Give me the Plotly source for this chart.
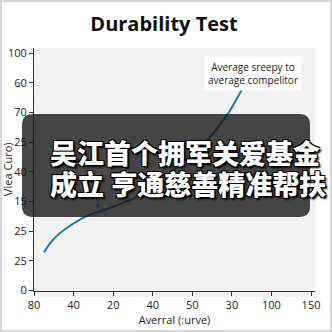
import plotly.graph_objects as go

# ---- data ----
curve_x = [0.25, 0.40, 0.61, 0.91, 1.29, 1.67, 2.17, 2.68, 3.36, 3.94, 4.45, 4.88, 5.26]
curve_y = [1.28, 1.58, 1.88, 2.18, 2.48, 2.67, 2.91, 3.21, 3.89, 4.49, 5.17, 5.91, 6.79]
x_tickvals = [0, 1, 2, 3, 4, 5, 6, 7]
x_ticktext = ["80", "40", "20", "40", "50", "30", "100", "150"]
y_tickvals = [0, 1, 2, 3, 4, 5, 6, 7, 8]
y_ticktext = ["0", "25", "25", "15", "40", "25", "70", "60", "100"]

W, H = 332, 332
L, R, T, B = 34, 315, 48, 291  # plot area in pixels


def px(x):
    return (x - L) / (R - L)


def py(y):
    return (B - y) / (B - T)


def rounded_rect(x0, y0, x1, y1, r):
    p = lambda x, y: f"{px(x):.5f},{py(y):.5f}"
    return (f"M {p(x0 + r, y0)} L {p(x1 - r, y0)} Q {p(x1, y0)} {p(x1, y0 + r)} "
            f"L {p(x1, y1 - r)} Q {p(x1, y1)} {p(x1 - r, y1)} "
            f"L {p(x0 + r, y1)} Q {p(x0, y1)} {p(x0, y1 - r)} "
            f"L {p(x0, y0 + r)} Q {p(x0, y0)} {p(x0 + r, y0)} Z")


fig = go.Figure()
fig.add_trace(go.Scatter(x=curve_x, y=curve_y, mode="lines",
                         line=dict(color="#1a78b4", width=2, shape="spline", smoothing=0.8),
                         hoverinfo="skip", showlegend=False))

axis_font = dict(family="Open Sans, DejaVu Sans, sans-serif", size=11, color="#222")

fig.update_layout(
    width=W, height=H,
    margin=dict(l=L, r=W - R, t=T, b=H - B, autoexpand=False),
    paper_bgcolor="white",
    plot_bgcolor="#f2f2f2",
    showlegend=False,
    title=dict(text="<b>Durability Test</b>", x=0.494, xanchor="center", y=1 - 24 / H, yanchor="middle",
               font=dict(family="Open Sans, sans-serif", size=20, color="#111")),
    xaxis=dict(range=[0, 7.1], tickvals=x_tickvals, ticktext=x_ticktext, automargin=False,
               showgrid=False, zeroline=False, showline=True, linecolor="#333", linewidth=1,
               ticks="outside", ticklen=4, tickcolor="#333", tickfont=axis_font,
               title=dict(text="Averral (:urve)", font=axis_font, standoff=1)),
    yaxis=dict(range=[-0.02, 8.17], tickvals=y_tickvals, ticktext=y_ticktext, automargin=False,
               showgrid=False, zeroline=False, showline=True, linecolor="#333", linewidth=1,
               ticks="outside", ticklen=4, tickcolor="#333", tickfont=axis_font,
               title=dict(text="\\/iea Curo)", font=axis_font, standoff=1)),
)

shapes = [
    # gray extension below the axis
    dict(type="rect", xref="paper", yref="paper", x0=0, x1=1, y0=py(297), y1=0,
         fillcolor="#f2f2f2", line=dict(width=0), layer="below"),
    # outer border
    dict(type="rect", xref="paper", yref="paper", x0=px(1), x1=px(331), y0=py(331), y1=py(1),
         fillcolor="rgba(0,0,0,0)", line=dict(color="#d6d6d6", width=2), layer="above"),
    # dark overlay panel
    dict(type="path", xref="paper", yref="paper", path=rounded_rect(22, 114, 310, 217, 11),
         fillcolor="rgba(25,25,25,0.8)", line=dict(width=0), layer="above"),
]
fig.update_layout(shapes=shapes)

ann_font = dict(family="Open Sans, DejaVu Sans, sans-serif", size=10, color="#222")
annotations = [
    dict(xref="paper", yref="paper", x=px(253), y=py(73), xanchor="center", yanchor="middle",
         text="Average sreepy to<br>average compelitor",
         showarrow=False, bgcolor="white", borderpad=3, font=ann_font, align="center"),
    dict(xref="paper", yref="paper", x=px(88), y=py(171), xanchor="center", yanchor="middle",
         text="wear curve",
         showarrow=False, font=dict(family="Open Sans, sans-serif", size=10, color="#555")),
    dict(xref="paper", yref="paper", x=px(98), y=py(209), text="", showarrow=True,
         ax=0, ay=-30, arrowhead=2, arrowsize=1, arrowwidth=1, arrowcolor="#2b3550"),
]
cn_shadow = ("2px 2px 2px #000, -1px -1px 0 #000, 1px -1px 0 #000, "
             "-1px 1px 0 #000, 1px 1px 0 #000")
cn_font = dict(family="Noto Sans CJK SC", size=27, color="white", weight=900, shadow=cn_shadow)
annotations += [
    dict(xref="paper", yref="paper", x=px(48), y=py(152), xanchor="left", yanchor="middle",
         text="吴江首个拥军关爱基金", showarrow=False, font=cn_font),
    dict(xref="paper", yref="paper", x=px(48), y=py(183), xanchor="left", yanchor="middle",
         text="成立 亨通慈善精准帮扶", showarrow=False, font=cn_font),
]
fig.update_layout(annotations=annotations)

fig.write_html("out.html")
